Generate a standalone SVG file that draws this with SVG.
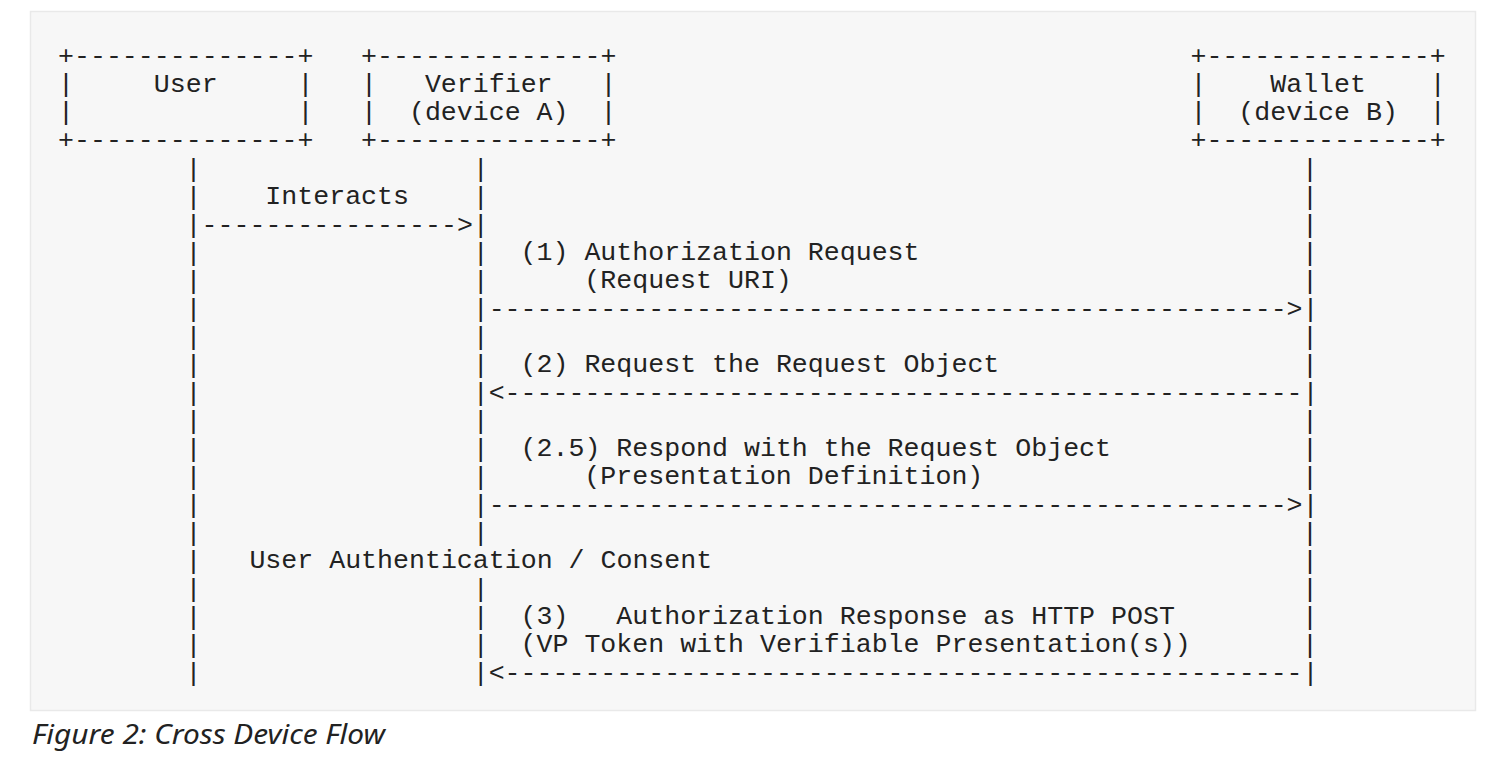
<svg xmlns="http://www.w3.org/2000/svg" width="1496" height="762" viewBox="0 0 1496 762" xml:space="preserve">
<style>
.m{font-family:"Liberation Mono","DejaVu Sans Mono",monospace;font-size:26.6px;fill:#222;white-space:pre}
.cap{font-family:"Noto Sans","Open Sans",sans-serif;font-style:italic;font-size:27px;fill:#222}
</style>
<rect x="0" y="0" width="1496" height="762" fill="#ffffff"/>
<rect x="30.5" y="11.5" width="1445" height="699" fill="#f7f7f7" stroke="#e9e9e9" stroke-width="1.5"/>
<g id="node-user">
<text class="m" x="58" y="63.5">+--------------+</text>
<text class="m" x="58" y="92.3">|     User     |</text>
<text class="m" x="58" y="120.3">|              |</text>
<text class="m" x="58" y="147.5">+--------------+</text>
</g>
<g id="node-verifier">
<text class="m" x="361.05" y="63.5">+--------------+</text>
<text class="m" x="361.05" y="92.3">|   Verifier   |</text>
<text class="m" x="361.05" y="120.3">|  (device A)  |</text>
<text class="m" x="361.05" y="147.5">+--------------+</text>
</g>
<g id="node-wallet">
<text class="m" x="1190.45" y="63.5">+--------------+</text>
<text class="m" x="1190.45" y="92.3">|    Wallet    |</text>
<text class="m" x="1190.45" y="120.3">|  (device B)  |</text>
<text class="m" x="1190.45" y="147.5">+--------------+</text>
</g>
<g id="connectors">
<g id="lifeline-user">
<text class="m"><tspan x="185.6" y="176.5">|</tspan><tspan x="185.6" y="204.5">|</tspan><tspan x="185.6" y="260.5">|</tspan><tspan x="185.6" y="288.5">|</tspan><tspan x="185.6" y="316.5">|</tspan><tspan x="185.6" y="344.5">|</tspan><tspan x="185.6" y="372.5">|</tspan><tspan x="185.6" y="400.5">|</tspan><tspan x="185.6" y="428.5">|</tspan><tspan x="185.6" y="456.5">|</tspan><tspan x="185.6" y="484.5">|</tspan><tspan x="185.6" y="512.5">|</tspan><tspan x="185.6" y="540.5">|</tspan><tspan x="185.6" y="568.5">|</tspan><tspan x="185.6" y="596.5">|</tspan><tspan x="185.6" y="624.5">|</tspan><tspan x="185.6" y="652.5">|</tspan><tspan x="185.6" y="680.5">|</tspan></text>
</g>
<g id="lifeline-verifier">
<text class="m"><tspan x="472.7" y="176.5">|</tspan><tspan x="472.7" y="204.5">|</tspan><tspan x="472.7" y="260.5">|</tspan><tspan x="472.7" y="288.5">|</tspan><tspan x="472.7" y="344.5">|</tspan><tspan x="472.7" y="372.5">|</tspan><tspan x="472.7" y="428.5">|</tspan><tspan x="472.7" y="456.5">|</tspan><tspan x="472.7" y="484.5">|</tspan><tspan x="472.7" y="540.5">|</tspan><tspan x="472.7" y="596.5">|</tspan><tspan x="472.7" y="624.5">|</tspan><tspan x="472.7" y="652.5">|</tspan></text>
</g>
<g id="lifeline-wallet">
<text class="m"><tspan x="1302.1" y="176.5">|</tspan><tspan x="1302.1" y="204.5">|</tspan><tspan x="1302.1" y="232.5">|</tspan><tspan x="1302.1" y="260.5">|</tspan><tspan x="1302.1" y="288.5">|</tspan><tspan x="1302.1" y="344.5">|</tspan><tspan x="1302.1" y="372.5">|</tspan><tspan x="1302.1" y="428.5">|</tspan><tspan x="1302.1" y="456.5">|</tspan><tspan x="1302.1" y="484.5">|</tspan><tspan x="1302.1" y="540.5">|</tspan><tspan x="1302.1" y="568.5">|</tspan><tspan x="1302.1" y="596.5">|</tspan><tspan x="1302.1" y="624.5">|</tspan><tspan x="1302.1" y="652.5">|</tspan></text>
</g>
<g id="msg-interacts">
<text class="m" x="265.35" y="204.3">Interacts</text>
<text class="m" x="185.6" y="232.5">|---------------->|</text>
</g>
<g id="msg-1">
<text class="m" x="520.55" y="260.3">(1) Authorization Request</text>
<text class="m" x="584.35" y="288.3">(Request URI)</text>
<text class="m" x="472.7" y="316.5">|-------------------------------------------------->|</text>
</g>
<g id="msg-2">
<text class="m" x="520.55" y="372.3">(2) Request the Request Object</text>
<text class="m" x="472.7" y="400.5">|&lt;--------------------------------------------------|</text>
</g>
<g id="msg-2-5">
<text class="m" x="520.55" y="456.3">(2.5) Respond with the Request Object</text>
<text class="m" x="584.35" y="484.3">(Presentation Definition)</text>
<text class="m" x="472.7" y="512.5">|-------------------------------------------------->|</text>
</g>
<g id="note-consent">
<text class="m" x="249.4" y="568.3">User Authentication / Consent</text>
</g>
<g id="msg-3">
<text class="m" x="520.55" y="624.3">(3)   Authorization Response as HTTP POST</text>
<text class="m" x="520.55" y="652.3">(VP Token with Verifiable Presentation(s))</text>
<text class="m" x="472.7" y="680.5">|&lt;--------------------------------------------------|</text>
</g>
</g>
<text class="cap" x="32" y="743.5" textLength="353" lengthAdjust="spacingAndGlyphs">Figure 2: Cross Device Flow</text>
</svg>
